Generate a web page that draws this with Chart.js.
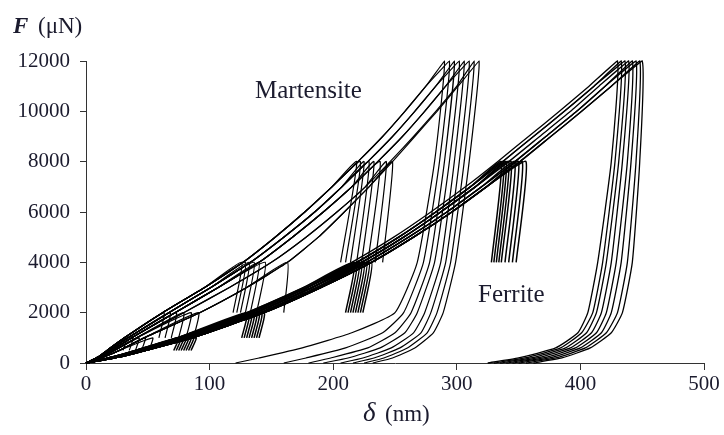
<!DOCTYPE html>
<html>
<head>
<meta charset="utf-8">
<script src="https://cdn.jsdelivr.net/npm/chart.js@4"></script>
<style>
  html, body { margin: 0; padding: 0; background: #fff; }
  #wrap { width: 724px; height: 435px; position: relative; }
</style>
</head>
<body>
<div id="wrap"><canvas id="myChart"></canvas></div>
<script>
// load levels (µN) at which the loading curves were read
const loadLevels = [0, 250, 500, 1000, 2000, 3000, 4000, 5000, 6000, 7000, 8000, 9000, 10000, 11000, 12000];

// ferrite loading curves, depth (nm) at each load level
const ferriteLoadA = [0, 22, 40, 74, 130, 176, 215, 249, 279, 307, 333, 358, 383, 407, 430];
const ferriteLoadB = [0, 23, 42, 77, 133, 179, 219, 253, 283, 311, 337, 362, 387, 411, 434];
const ferriteLoadC = [0, 25, 44, 80, 137, 183, 223, 257, 287, 315, 342, 367, 392, 415, 439];
const ferriteLoadD = [0, 27, 46, 83, 141, 187, 227, 261, 292, 320, 347, 372, 397, 420, 444];
const ferriteLoadE = [0, 28, 48, 86, 144, 190, 231, 265, 296, 324, 351, 376, 401, 425, 448];

// martensite loading curves
const martLoadA = [0, 10, 17, 31, 62, 96, 127, 153, 177, 199, 220, 240, 258, 275, 291];
const martLoadB = [0, 11, 19, 34, 67, 101, 133, 160, 185, 207, 228, 248, 266, 283, 299];
const martLoadC = [0, 12, 21, 37, 72, 107, 140, 167, 192, 215, 236, 256, 274, 291, 307];
const martLoadD = [0, 13, 23, 41, 79, 116, 150, 178, 203, 226, 246, 265, 283, 300, 316];
const martLoadE = [0, 15, 27, 47, 92, 130, 163, 188, 209, 229, 248, 266, 284, 301, 318];

// partial unloads: peak load, load where the unloading stops
const partialLoads = [1000, 2000, 4000, 8000];
const partialEndLoads = [500, 1000, 2000, 4000];

// ferrite: depth at peak and at end of partial unload
const ferritePeaks = [
  [75, 77, 79, 81, 83, 85, 87, 89],
  [130, 132, 134, 136, 138, 140, 142, 144],
  [217, 219, 221, 223, 225, 227, 229, 231],
  [336, 338, 340, 342, 344, 347, 350, 353, 356]
];
const ferriteEnds = [
  [71, 73, 75, 77, 79, 81, 83, 85],
  [126, 128, 130, 132, 134, 136, 138, 140],
  [210, 212, 214, 216, 218, 220, 222, 224],
  [328, 330, 332, 334, 336, 339, 342, 345, 348]
];

// martensite
const martPeaks = [
  [33, 38, 43, 48, 54],
  [63, 68, 73, 79, 85, 91],
  [126, 129, 132, 136, 140, 145, 163],
  [219, 222, 225, 229, 233, 238, 243, 248]
];
const martEnds = [
  [30, 35, 40, 45, 51],
  [59, 64, 69, 75, 81, 87],
  [119, 122, 125, 129, 133, 138, 160],
  [206, 210, 214, 219, 223, 228, 234, 240]
];

// full unloads from 12000 µN, depth at each unload level
const unloadLevels = [12000, 8000, 4000, 2000, 1200, 600, 200, 0];
const ferriteUnload = [
  [430, 425, 414, 406, 398, 380, 350, 325],
  [433, 428, 418, 410, 401, 384, 355, 330],
  [436, 431, 421, 413, 405, 388, 360, 335],
  [439, 434, 425, 417, 409, 392, 365, 340],
  [442, 438, 429, 421, 413, 396, 370, 345],
  [445, 441, 433, 425, 417, 400, 375, 350],
  [448, 445, 438, 430, 421, 404, 380, 356],
  [450, 448, 442, 434, 425, 408, 385, 362]
];
const martUnload = [
  [290, 282, 268, 250, 215, 175, 140, 121],
  [294, 286, 273, 257, 240, 210, 178, 160],
  [298, 290, 278, 263, 250, 228, 198, 180],
  [302, 294, 282, 268, 258, 238, 212, 192],
  [306, 298, 287, 274, 265, 247, 224, 206],
  [310, 302, 291, 279, 271, 254, 233, 216],
  [314, 306, 295, 284, 276, 260, 241, 225],
  [318, 310, 299, 289, 281, 266, 248, 232]
];

const xTicks = [0, 100, 200, 300, 400, 500];
const yTicks = [0, 2000, 4000, 6000, 8000, 10000, 12000];

// loading part up to (not incl.) the peak, from the closest loading curve
function loadingPath(variants, peakD, peakF) {
  let k = loadLevels.indexOf(peakF);
  let best = variants[0];
  variants.forEach(v => {
    if (Math.abs(v[k] - peakD) < Math.abs(best[k] - peakD)) best = v;
  });
  let pts = [];
  for (let i = 0; i < k; i++) pts.push({x: best[i], y: loadLevels[i]});
  return pts;
}

function lineSet(pts, w) {
  return {
    data: pts,
    showLine: true,
    borderColor: '#000',
    borderWidth: w,
    pointRadius: 0,
    tension: 0.15,
    clip: false
  };
}

let datasets = [];
let ferriteVars = [ferriteLoadA, ferriteLoadB, ferriteLoadC, ferriteLoadD, ferriteLoadE];
let martVars = [martLoadA, martLoadB, martLoadC, martLoadD, martLoadE];

function addPartial(vars, peaks, ends, w) {
  peaks.forEach((group, g) => {
    group.forEach((d, i) => {
      let pts = loadingPath(vars, d, partialLoads[g]);
      pts.push({x: d, y: partialLoads[g]});
      pts.push({x: ends[g][i], y: partialEndLoads[g]});
      datasets.push(lineSet(pts, w));
    });
  });
}
function addFull(vars, unloads, w) {
  unloads.forEach(u => {
    let pts = loadingPath(vars, u[0], 12000);
    u.forEach((d, i) => pts.push({x: d, y: unloadLevels[i]}));
    datasets.push(lineSet(pts, w));
  });
}

addPartial(ferriteVars, ferritePeaks, ferriteEnds, 1.5);
addFull(ferriteVars, ferriteUnload, 1.3);
addPartial(martVars, martPeaks, martEnds, 1.2);
addFull(martVars, martUnload, 1.2);

const textColor = '#1b1b2e';
const serif = '"Liberation Serif", "Times New Roman", serif';

const labelsPlugin = {
  id: 'labels',
  afterDraw(chart) {
    let c = chart.ctx;
    c.save();
    c.fillStyle = textColor;
    c.textBaseline = 'alphabetic';
    c.font = 'italic bold 23px ' + serif;
    c.fillText('F', 13, 33);
    c.font = '23px ' + serif;
    c.fillText('(\u03bcN)', 38, 33);
    c.font = 'italic 27px ' + serif;
    c.fillText('\u03b4', 363, 421);
    c.font = '23px ' + serif;
    c.fillText('(nm)', 385, 421);
    c.font = '25px ' + serif;
    c.fillText('Martensite', 255, 98);
    c.fillText('Ferrite', 478, 302);
    c.restore();
  }
};

let ctx = document.getElementById('myChart');
new Chart(ctx, {
  type: 'scatter',
  data: { datasets: datasets },
  options: {
    responsive: true,
    maintainAspectRatio: false,
    animation: false,
    layout: { padding: { left: 0, right: 20, top: 61, bottom: 0 } },
    plugins: { legend: { display: false }, tooltip: { enabled: false } },
    scales: {
      x: {
        type: 'linear',
        min: 0, max: 500,
        afterFit: s => { s.height = 72; },
        afterBuildTicks: s => { s.ticks = xTicks.map(v => ({value: v})); },
        grid: { drawOnChartArea: false, drawTicks: true, tickLength: 7, color: '#333' },
        border: { color: '#333', width: 1 },
        ticks: { color: textColor, font: { family: serif, size: 21 }, padding: 2, maxRotation: 0, autoSkip: false,
                 callback: v => String(v) }
      },
      y: {
        type: 'linear',
        min: 0, max: 12000,
        afterFit: s => { s.width = 86; },
        afterBuildTicks: s => { s.ticks = yTicks.map(v => ({value: v})); },
        grid: { drawOnChartArea: false, drawTicks: true, tickLength: 6, color: '#333' },
        border: { color: '#333', width: 1 },
        ticks: { color: textColor, font: { family: serif, size: 21 }, padding: 10, autoSkip: false,
                 callback: v => String(v) }
      }
    }
  },
  plugins: [labelsPlugin]
});
</script>
</body>
</html>
